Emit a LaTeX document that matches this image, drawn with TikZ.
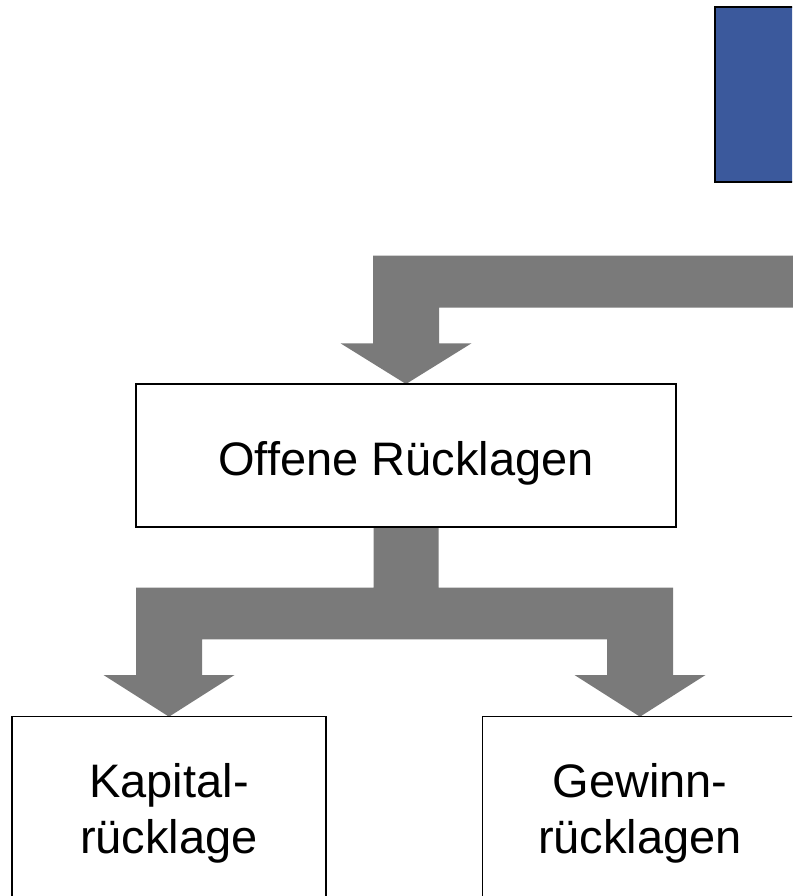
\documentclass[tikz,border=0pt]{standalone}
\usepackage{fontspec}
\setmainfont{Liberation Sans}
\usetikzlibrary{calc, backgrounds}
\definecolor{boxblue}{RGB}{59,89,156}
\definecolor{arrowgray}{RGB}{122,122,122}
\tikzset{
  box/.style={draw, line width=1.5pt, fill=white, inner sep=0pt, outer sep=0pt, align=center, font=\fontsize{47}{56}\selectfont},
  thickarrow/.style={fill=arrowgray, draw=none}
}

\begin{document}
\begin{tikzpicture}[x=1pt, y=-1pt]
\path[use as bounding box, clip] (0,0) rectangle (792,896);

\node (top) [draw, line width=2.5pt, outer sep=0pt, fill=boxblue, minimum width=200pt, minimum height=175pt, anchor=north west] at (715,7) {};
\node (offene) [box, line width=2pt, minimum width=540pt, minimum height=143pt, text height=39pt, text depth=0pt] at (406,455.5) {Offene Rücklagen};
\node (kapital) [box, minimum width=314pt, minimum height=193pt, anchor=north] at (169,716.7) {Kapital-\\rücklage};
\node (gewinn) [box, minimum width=315pt, minimum height=193pt, anchor=north] at (640,716.7) {Gewinn-\\rücklagen};

\begin{scope}[on background layer]
% from the top box down to the open reserves
\fill[thickarrow] (offene.north) -- ++(-65.5,-40.7) -- ++(32.5,0) -- ++(0,-87.6)
  -- (800,255.7) -- (800,307.7) -- ($(offene.north)+(33,-76.3)$) -- ++(0,35.6) -- ++(32.5,0) -- cycle;
% split into the two kinds of reserves
\fill[thickarrow] ($(offene.south)+(-32.5,0)$) -- ++(0,60.7) -- ($(kapital.north)+(-33,-129)$) -- ++(0,87.3) -- ++(-32.5,0)
  -- (kapital.north) -- ($(kapital.north)+(65.5,-41.7)$) -- ++(-32.5,0) -- ++(0,-35.7)
  -- ($(gewinn.north)+(-33,-77.4)$) -- ++(0,35.7) -- ++(-32.5,0)
  -- (gewinn.north) -- ($(gewinn.north)+(65.5,-41.7)$) -- ++(-32.5,0) -- ++(0,-87.3)
  -- ($(offene.south)+(32.5,60.7)$) -- ++(0,-60.7) -- cycle;
\end{scope}
\end{tikzpicture}
\end{document}
